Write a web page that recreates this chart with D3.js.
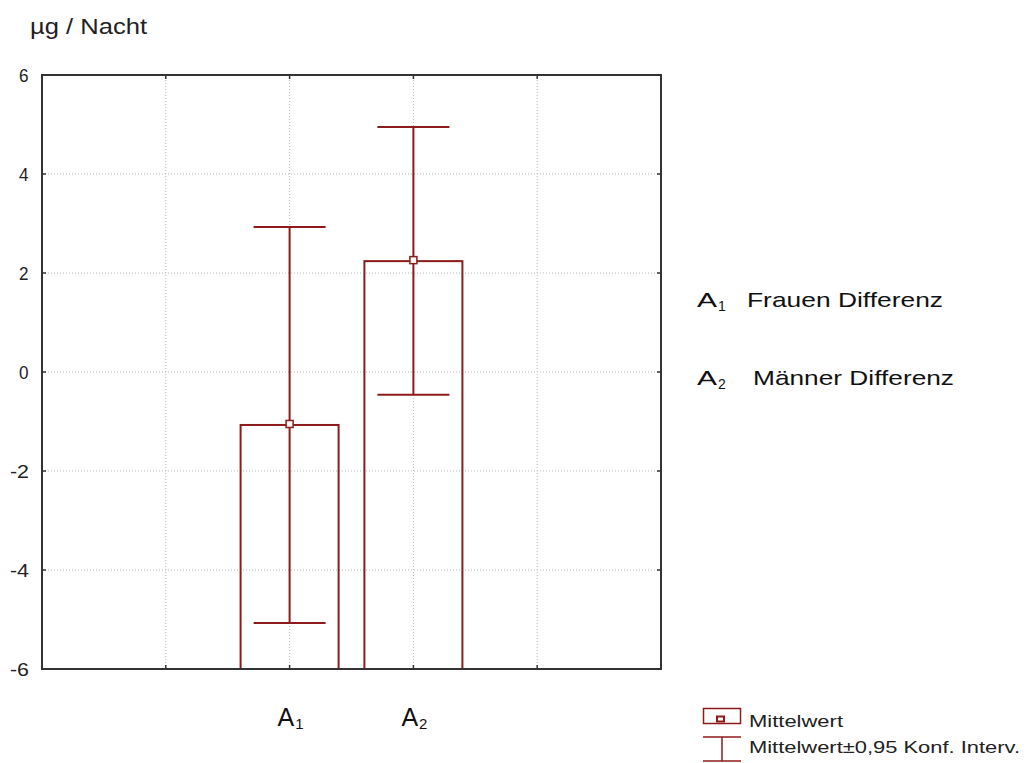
<!DOCTYPE html>
<html>
<head>
<meta charset="utf-8">
<script src="https://cdn.jsdelivr.net/npm/d3@7"></script>
<style>
  body { margin: 0; background: #fff; }
  text { font-family: Arial, "Liberation Sans", sans-serif; }
</style>
</head>
<body>
<div id="content"></div>
<script>
// data
const categories = ["A1", "A2"];
const catPos = [2, 3];
const means = [-1.05, 2.26];
const ciLow = [-5.07, -0.46];
const ciHigh = [2.93, 4.95];
const yTicks = [-6, -4, -2, 0, 2, 4, 6];
const xGrid = [1, 2, 3, 4];
const notes = [["1", "Frauen Differenz"], ["2", "Männer Differenz"]];
const legendLabels = ["Mittelwert", "Mittelwert±0,95 Konf. Interv."];

const red = "#8e1b1b";

const svg = d3.select("#content").append("svg")
    .attr("width", 1027)
    .attr("height", 763);

const x = d3.scaleLinear().domain([0, 5]).range([42, 661]);
const y = d3.scaleLinear().domain([-6, 6]).range([669, 75]);

// grid
svg.append("g").selectAll("line.gy")
    .data(yTicks.slice(1, -1))
    .enter().append("line")
    .attr("x1", x(0)).attr("x2", x(5))
    .attr("y1", d => y(d)).attr("y2", d => y(d))
    .style("stroke", "#b8b8b8")
    .style("stroke-dasharray", "1,2");

svg.append("g").selectAll("line.gx")
    .data(xGrid)
    .enter().append("line")
    .attr("x1", d => x(d)).attr("x2", d => x(d))
    .attr("y1", y(-6)).attr("y2", y(6))
    .style("stroke", "#b8b8b8")
    .style("stroke-dasharray", "1,2");

// bars, clipped at the bottom of the plot
const groups = svg.append("g").selectAll("g")
    .data(categories.map((c, i) => ({c, p: catPos[i], m: means[i], lo: ciLow[i], hi: ciHigh[i]})))
    .enter().append("g");

groups.append("rect")
    .attr("x", d => x(d.p) - 49)
    .attr("width", 98)
    .attr("y", d => y(d.m) + 1)
    .attr("height", d => y(-6) - y(d.m) + 4)
    .style("fill", "none")
    .style("stroke", red)
    .style("stroke-width", 2);

groups.append("line")
    .attr("x1", d => x(d.p)).attr("x2", d => x(d.p))
    .attr("y1", d => y(d.lo)).attr("y2", d => y(d.hi))
    .style("stroke", red).style("stroke-width", 2);

groups.selectAll("line.cap")
    .data(d => [[d.p, d.lo], [d.p, d.hi]])
    .enter().append("line")
    .attr("x1", d => x(d[0]) - 36).attr("x2", d => x(d[0]) + 36)
    .attr("y1", d => y(d[1])).attr("y2", d => y(d[1]))
    .style("stroke", red).style("stroke-width", 2);

groups.append("rect")
    .attr("x", d => x(d.p) - 3.5)
    .attr("y", d => y(d.m) - 3.5)
    .attr("width", 7).attr("height", 7)
    .style("fill", "#fff")
    .style("stroke", red)
    .style("stroke-width", 1.5);

// white cover below plot so bars don't poke out
svg.append("rect")
    .attr("x", x(0)).attr("y", y(-6) + 1)
    .attr("width", x(5) - x(0)).attr("height", 6)
    .style("fill", "#fff");

// frame + ticks
svg.append("rect")
    .attr("x", x(0)).attr("y", y(6))
    .attr("width", x(5) - x(0)).attr("height", y(-6) - y(6))
    .style("fill", "none")
    .style("stroke", "#333")
    .style("stroke-width", 2);

const yAxis = svg.append("g");
yAxis.selectAll("line.tl")
    .data(yTicks).enter().append("line")
    .attr("x1", x(0)).attr("x2", x(0) + 4)
    .attr("y1", d => y(d)).attr("y2", d => y(d))
    .style("stroke", "#333").style("stroke-width", 1.5);
yAxis.selectAll("line.tr")
    .data(yTicks).enter().append("line")
    .attr("x1", x(5)).attr("x2", x(5) - 4)
    .attr("y1", d => y(d)).attr("y2", d => y(d))
    .style("stroke", "#333").style("stroke-width", 1.5);
yAxis.selectAll("text")
    .data(yTicks).enter().append("text")
    .attr("x", d => d < 0 ? 10 : 19)
    .attr("y", d => y(d) + 7)
    .attr("textLength", d => d < 0 ? 19 : 9.5)
    .attr("lengthAdjust", "spacingAndGlyphs")
    .style("font-size", "19px")
    .style("fill", "#222")
    .text(d => d);

svg.append("g").selectAll("line.tx")
    .data(xGrid.flatMap(d => [[d, y(-6), -4], [d, y(6), 4]]))
    .enter().append("line")
    .attr("x1", d => x(d[0])).attr("x2", d => x(d[0]))
    .attr("y1", d => d[1]).attr("y2", d => d[1] + d[2])
    .style("stroke", "#333").style("stroke-width", 1.5);

// category labels with subscripts
svg.append("g").selectAll("text")
    .data(categories.map((c, i) => ({c, p: catPos[i]})))
    .enter().append("text")
    .attr("x", d => x(d.p) - 12)
    .attr("y", 726)
    .style("font-size", "25px")
    .style("fill", "#111")
    .each(function(d) {
        const t = d3.select(this);
        t.append("tspan").text(d.c[0]);
        t.append("tspan").attr("dy", 3).attr("dx", 1).style("font-size", "15px").text(d.c.slice(1));
    });

// axis title
svg.append("text")
    .attr("x", 30).attr("y", 34)
    .attr("textLength", 117)
    .attr("lengthAdjust", "spacingAndGlyphs")
    .style("font-size", "22px")
    .style("fill", "#222")
    .text("µg / Nacht");

// notes on the right
const noteX = [747, 753];
const noteW = [196, 201];
const noteG = svg.append("g").selectAll("g")
    .data(notes)
    .enter().append("g")
    .attr("transform", (d, i) => `translate(0,${307 + i * 78})`);
noteG.append("text")
    .attr("x", 697)
    .style("font-size", "21px")
    .style("fill", "#111")
    .each(function(d) {
        const t = d3.select(this);
        t.append("tspan").attr("textLength", 20).attr("lengthAdjust", "spacingAndGlyphs").text("A");
        t.append("tspan").attr("dy", 4).attr("dx", 1).style("font-size", "14px").text(d[0]);
    });
noteG.append("text")
    .attr("x", (d, i) => noteX[i])
    .attr("textLength", (d, i) => noteW[i])
    .attr("lengthAdjust", "spacingAndGlyphs")
    .style("font-size", "21px")
    .style("fill", "#111")
    .text(d => d[1]);

// legend
const lg = svg.append("g");
lg.append("rect")
    .attr("x", 703.5).attr("y", 708.5).attr("width", 37).attr("height", 15)
    .style("fill", "none").style("stroke", red).style("stroke-width", 1.5);
lg.append("rect")
    .attr("x", 717).attr("y", 716.5).attr("width", 7).attr("height", 5)
    .style("fill", "#fff").style("stroke", red).style("stroke-width", 2);
lg.append("line")
    .attr("x1", 703).attr("x2", 741).attr("y1", 737).attr("y2", 737)
    .style("stroke", red).style("stroke-width", 1.5);
lg.append("line")
    .attr("x1", 722).attr("x2", 722).attr("y1", 737).attr("y2", 761)
    .style("stroke", red).style("stroke-width", 1.5);
lg.append("line")
    .attr("x1", 703).attr("x2", 741).attr("y1", 761).attr("y2", 761)
    .style("stroke", red).style("stroke-width", 1.5);
lg.selectAll("text")
    .data(legendLabels)
    .enter().append("text")
    .attr("x", 749)
    .attr("y", (d, i) => 727 + i * 26)
    .attr("textLength", (d, i) => [94, 271][i])
    .attr("lengthAdjust", "spacingAndGlyphs")
    .style("font-size", "17px")
    .style("fill", "#222")
    .text(d => d);
</script>
</body>
</html>
